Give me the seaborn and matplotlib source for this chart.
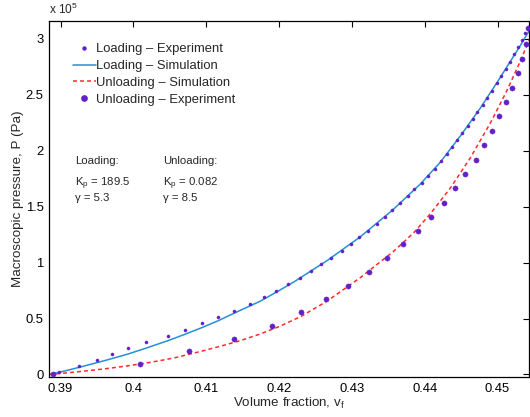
import matplotlib
matplotlib.use("Agg")
import matplotlib.pyplot as plt
import seaborn as sns
import pandas as pd
from matplotlib.ticker import FuncFormatter, FixedLocator
from matplotlib.lines import Line2D

# ---------------- data (pressure in units of 1e5 Pa) ----------------
load_exp_vf = [0.38979, 0.39254, 0.39505, 0.39712, 0.39927, 0.40174, 0.40473, 0.40714,
               0.40944, 0.41168, 0.41387, 0.41599, 0.41788, 0.41960, 0.42129, 0.42290,
               0.42437, 0.42578, 0.42720, 0.42863, 0.42986, 0.43104, 0.43228, 0.43343,
               0.43453, 0.43558, 0.43663, 0.43764, 0.43860, 0.43962, 0.44052, 0.44140,
               0.44223, 0.44300, 0.44374, 0.44446, 0.44519, 0.44588, 0.44657, 0.44725,
               0.44794, 0.44859, 0.44923, 0.44986, 0.45051, 0.45110, 0.45170, 0.45229,
               0.45284, 0.45335, 0.45380]
load_exp_p = [0.018, 0.074, 0.128, 0.182, 0.235, 0.289, 0.345, 0.402, 0.456, 0.513,
              0.572, 0.629, 0.689, 0.745, 0.805, 0.864, 0.924, 0.984, 1.043, 1.103,
              1.163, 1.225, 1.284, 1.347, 1.410, 1.470, 1.530, 1.592, 1.655, 1.716,
              1.776, 1.839, 1.905, 1.968, 2.030, 2.093, 2.158, 2.221, 2.283, 2.346,
              2.411, 2.474, 2.537, 2.603, 2.668, 2.731, 2.796, 2.862, 2.925, 2.990,
              3.050]

unload_exp_vf = [0.38901, 0.40092, 0.40765, 0.41383, 0.41898, 0.42304, 0.42647, 0.42953,
                 0.43234, 0.43481, 0.43705, 0.43907, 0.44089, 0.44261, 0.44419, 0.44560,
                 0.44698, 0.44821, 0.44931, 0.45023, 0.45120, 0.45198, 0.45275, 0.45335,
                 0.45390, 0.45422]
unload_exp_p = [0.000, 0.092, 0.206, 0.318, 0.435, 0.555, 0.674, 0.792, 0.915, 1.038,
                1.163, 1.284, 1.410, 1.535, 1.664, 1.789, 1.917, 2.048, 2.176, 2.308,
                2.436, 2.563, 2.692, 2.820, 2.957, 3.095]

load_sim_vf = [0.38842, 0.39062, 0.39337, 0.39611, 0.39927, 0.40161, 0.40473, 0.40710,
               0.40944, 0.41163, 0.41383, 0.41741, 0.41960, 0.42198, 0.42657, 0.43114,
               0.43571, 0.43938, 0.44213, 0.44487, 0.44762, 0.45037, 0.45312, 0.45440]
load_sim_p = [0.000, 0.032, 0.078, 0.125, 0.183, 0.233, 0.302, 0.360, 0.420, 0.480,
              0.548, 0.655, 0.735, 0.825, 1.017, 1.230, 1.477, 1.702, 1.897, 2.130,
              2.380, 2.655, 2.940, 3.080]

unload_sim_vf = [0.38842, 0.39062, 0.39337, 0.39611, 0.39886, 0.40161, 0.40367, 0.40573,
                 0.40916, 0.41191, 0.41466, 0.41741, 0.42015, 0.42304, 0.42657, 0.43114,
                 0.43571, 0.43846, 0.44075, 0.44350, 0.44625, 0.44899, 0.45129, 0.45312,
                 0.45440]
unload_sim_p = [0.000, 0.013, 0.031, 0.051, 0.074, 0.101, 0.124, 0.150, 0.205, 0.252,
                0.302, 0.362, 0.432, 0.520, 0.655, 0.865, 1.100, 1.265, 1.435, 1.665,
                1.935, 2.245, 2.538, 2.800, 2.998]

x_ticks = [0.39, 0.40, 0.41, 0.42, 0.43, 0.44, 0.45]
y_ticks = [0, 0.5, 1, 1.5, 2, 2.5, 3]
labels = ["Loading \u2013 Experiment", "Loading \u2013 Simulation",
          "Unloading \u2013 Simulation", "Unloading \u2013 Experiment"]

# ---------------- style ----------------
sns.set_theme(style="white")
plt.rcParams["font.family"] = ["Liberation Sans", "DejaVu Sans"]
plt.rcParams["mathtext.fontset"] = "custom"
plt.rcParams["mathtext.rm"] = "Liberation Sans"
plt.rcParams["mathtext.it"] = "Liberation Sans"
plt.rcParams["mathtext.default"] = "rm"

PURPLE = "#6220c8"
BLUE = "#2490d6"
RED = "#ff2a2a"
DASH = (0, (2.6, 2.0))

fig = plt.figure(figsize=(5.30, 4.17), dpi=100)
ax = fig.add_axes([0.0925, 0.0955, 0.906, 0.854])

df_le = pd.DataFrame({"vf": load_exp_vf, "P": load_exp_p})
df_ue = pd.DataFrame({"vf": unload_exp_vf, "P": unload_exp_p})
df_ls = pd.DataFrame({"vf": load_sim_vf, "P": load_sim_p})
df_us = pd.DataFrame({"vf": unload_sim_vf, "P": unload_sim_p})

sns.lineplot(data=df_ls, x="vf", y="P", ax=ax, color=BLUE, lw=1.1, sort=True,
             estimator=None, zorder=2)
sns.lineplot(data=df_us, x="vf", y="P", ax=ax, color=RED, lw=1.1, sort=True,
             estimator=None, zorder=2)
ax.lines[-1].set_linestyle(DASH)
sns.scatterplot(data=df_le, x="vf", y="P", ax=ax, color=PURPLE, s=5,
                edgecolor=PURPLE, linewidth=0.3, zorder=3)
sns.scatterplot(data=df_ue, x="vf", y="P", ax=ax, color=PURPLE, s=14,
                edgecolor=PURPLE, linewidth=0.3, zorder=3)

ax.set_xlim(0.38842, 0.45435)
ax.set_ylim(-0.024, 3.16)
ax.xaxis.set_major_locator(FixedLocator(x_ticks))
ax.yaxis.set_major_locator(FixedLocator(y_ticks))
ax.xaxis.set_major_formatter(FuncFormatter(lambda v, p: f"{v:g}"))
ax.yaxis.set_major_formatter(FuncFormatter(lambda v, p: f"{v:g}"))
ax.tick_params(axis="both", which="major", direction="in", length=4, width=0.8,
               labelsize=9.4, top=True, right=True, pad=4, colors="black")
for s in ax.spines.values():
    s.set_visible(True)
    s.set_color("black")
    s.set_linewidth(0.9)

ax.set_xlabel("Volume fraction, v$_\\mathregular{f}$", fontsize=9.6, labelpad=1)
ax.set_ylabel("Macroscopic pressure, P (Pa)", fontsize=9.6, labelpad=1)
ax.text(0.0, 1.012, "x 10$^\\mathregular{5}$", transform=ax.transAxes,
        fontsize=8.6, ha="left", va="bottom")

# legend
handles = [
    Line2D([], [], ls="none", marker="o", ms=2.2, color=PURPLE),
    Line2D([], [], color=BLUE, lw=1.1),
    Line2D([], [], color=RED, lw=1.1, ls=DASH),
    Line2D([], [], ls="none", marker="o", ms=3.8, color=PURPLE),
]
ax.legend(handles, labels, loc="upper left", bbox_to_anchor=(0.033, 0.96),
          frameon=False, fontsize=9.4, handlelength=1.75, handletextpad=0.02,
          labelspacing=0.36, borderaxespad=0.2)

# parameter annotations
fs = 8.2
ax.text(0.055, 0.607, "Loading:", transform=ax.transAxes, fontsize=fs, va="center")
ax.text(0.238, 0.607, "Unloading:", transform=ax.transAxes, fontsize=fs, va="center")
ax.text(0.055, 0.542, "K$_\\mathregular{p}$ = 189.5", transform=ax.transAxes, fontsize=fs, va="center")
ax.text(0.238, 0.542, "K$_\\mathregular{p}$ = 0.082", transform=ax.transAxes, fontsize=fs, va="center")
ax.text(0.055, 0.502, "\u03b3 = 5.3", transform=ax.transAxes, fontsize=fs, va="center")
ax.text(0.238, 0.502, "\u03b3 = 8.5", transform=ax.transAxes, fontsize=fs, va="center")

fig.savefig("out.png", dpi=100, facecolor="white")
